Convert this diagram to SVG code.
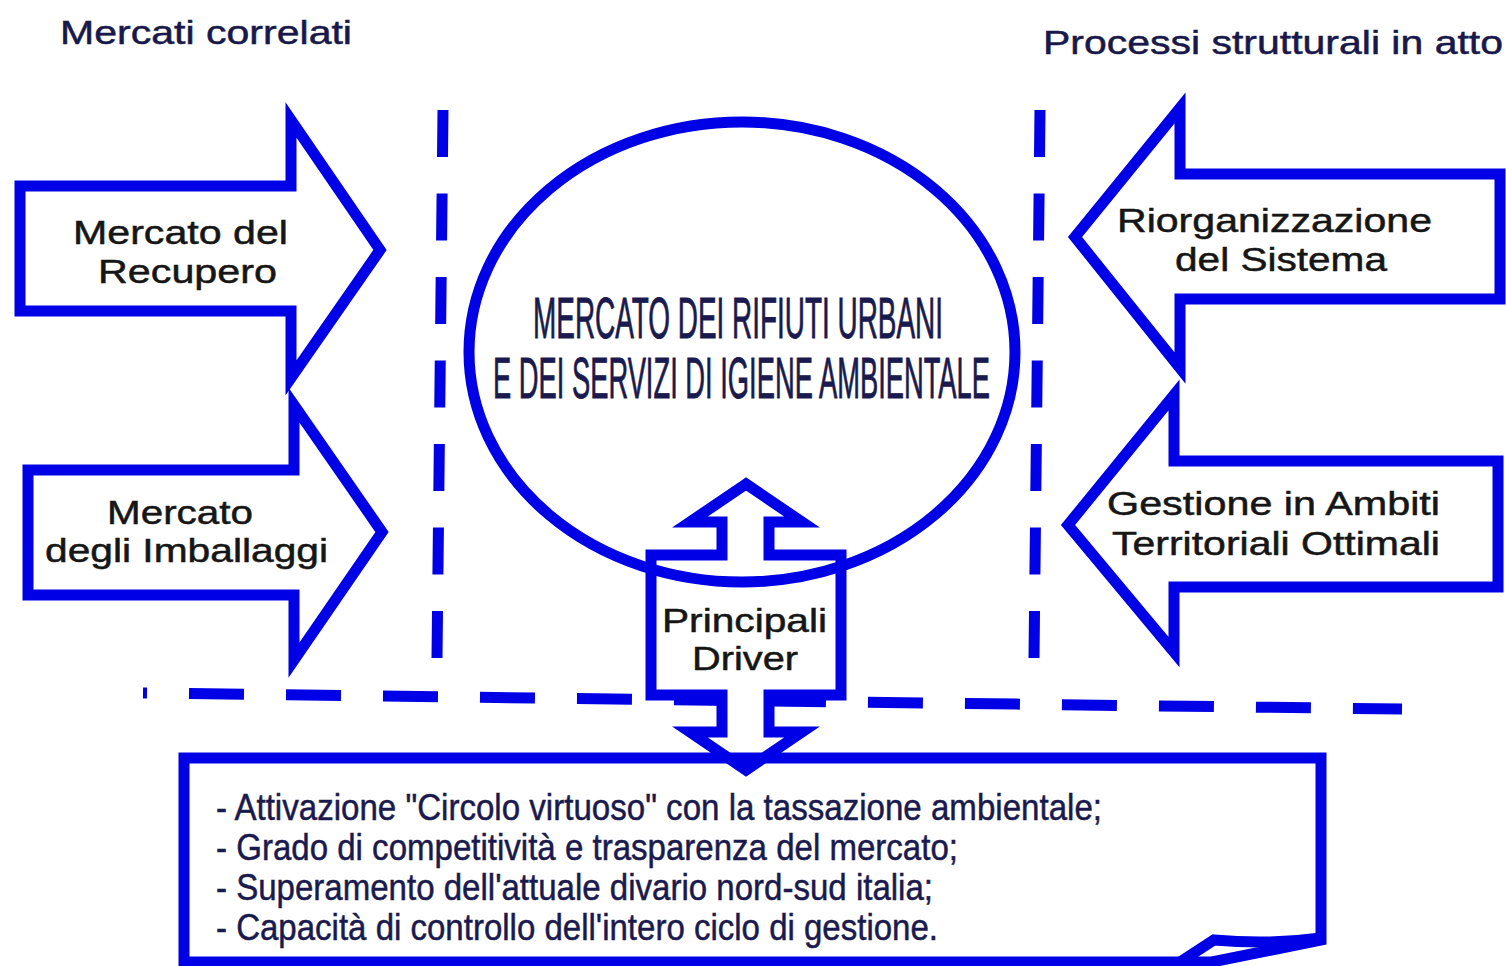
<svg xmlns="http://www.w3.org/2000/svg" width="1506" height="966" viewBox="0 0 1506 966">
<style>
.b{fill:none;stroke:#0000e6;stroke-width:11;stroke-linejoin:miter}
.bw{fill:#fff;stroke:#0000e6;stroke-width:11;stroke-linejoin:miter}
.d{fill:none;stroke:#0000e6;stroke-width:11}
.t{font-family:"Liberation Sans",Arial,sans-serif;font-size:33px;fill:#161616;stroke:#161616;stroke-width:0.5}
.h{font-family:"Liberation Sans",Arial,sans-serif;font-size:33px;fill:#18184a;stroke:#18184a;stroke-width:0.5}
.e{font-family:"Liberation Sans",Arial,sans-serif;font-size:58px;fill:#1a1a4e;stroke:#1a1a4e;stroke-width:0.9}
.l{font-family:"Liberation Sans",Arial,sans-serif;font-size:36px;fill:#1a1a4e;stroke:#1a1a4e;stroke-width:0.5}
</style>
<rect width="1506" height="966" fill="#fff"/>
<g id="titles">
<text class="h" x="60" y="44" textLength="292" lengthAdjust="spacingAndGlyphs">Mercati correlati</text>
<text class="h" x="1043" y="54" textLength="460" lengthAdjust="spacingAndGlyphs">Processi strutturali in atto</text>
</g>
<g id="connectors">
<line class="d" x1="443" y1="110" x2="437" y2="658" stroke-dasharray="47 36.5"/>
<line class="d" x1="1040" y1="110" x2="1034" y2="658" stroke-dasharray="47 36.5"/>
<line class="d" x1="143" y1="693" x2="1402" y2="709" stroke-width="10" stroke-dasharray="55 42" stroke-dashoffset="51"/>
</g>
<g id="arrow-recupero">
<polygon class="bw" points="20,186 291,186 291,120 380,250 291,378 291,311 20,311"/>
<text class="t" x="73" y="244" textLength="215" lengthAdjust="spacingAndGlyphs">Mercato del</text>
<text class="t" x="98" y="283" textLength="179" lengthAdjust="spacingAndGlyphs">Recupero</text>
</g>
<g id="arrow-imballaggi">
<polygon class="bw" points="28,470 294,470 294,405 382,532 294,660 294,595 28,595"/>
<text class="t" x="107" y="524" textLength="146" lengthAdjust="spacingAndGlyphs">Mercato</text>
<text class="t" x="45" y="562" textLength="283" lengthAdjust="spacingAndGlyphs">degli Imballaggi</text>
</g>
<g id="arrow-riorganizzazione">
<polygon class="bw" points="1500,174 1180,174 1180,108 1075,237 1180,368 1180,299 1500,299"/>
<text class="t" x="1117" y="232" textLength="315" lengthAdjust="spacingAndGlyphs">Riorganizzazione</text>
<text class="t" x="1175" y="271" textLength="212" lengthAdjust="spacingAndGlyphs">del Sistema</text>
</g>
<g id="arrow-gestione">
<polygon class="bw" points="1498,461 1174,461 1174,395 1068,525 1174,652 1174,587 1498,587"/>
<text class="t" x="1107" y="515" textLength="333" lengthAdjust="spacingAndGlyphs">Gestione in Ambiti</text>
<text class="t" x="1112" y="555" textLength="328" lengthAdjust="spacingAndGlyphs">Territoriali Ottimali</text>
</g>
<g id="driver">
<polygon class="bw" points="746,484 690,522 722,522 722,555 651,555 651,695 722,695 722,732 690,732 746,770 802,732 769,732 769,695 841,695 841,555 769,555 769,522 802,522"/>
<text class="t" x="662" y="632" textLength="165" lengthAdjust="spacingAndGlyphs">Principali</text>
<text class="t" x="692" y="670" textLength="106" lengthAdjust="spacingAndGlyphs">Driver</text>
</g>
<g id="mercato">
<ellipse class="b" cx="742" cy="352" rx="273" ry="230"/>
<text class="e" x="533" y="338" textLength="410" lengthAdjust="spacingAndGlyphs">MERCATO DEI RIFIUTI URBANI</text>
<text class="e" x="493" y="398" textLength="497" lengthAdjust="spacingAndGlyphs">E DEI SERVIZI DI IGIENE AMBIENTALE</text>
</g>
<g id="lista">
<path class="b" d="M184,758 H1321 V940 L1212,962 H184 Z"/>
<path class="b" d="M1180,962 L1214,940 Q1270,945 1321,938"/>
<text class="l" x="216" y="820" textLength="886" lengthAdjust="spacingAndGlyphs">- Attivazione "Circolo virtuoso" con la tassazione ambientale;</text>
<text class="l" x="216" y="860" textLength="742" lengthAdjust="spacingAndGlyphs">- Grado di competitività e trasparenza del mercato;</text>
<text class="l" x="216" y="900" textLength="717" lengthAdjust="spacingAndGlyphs">- Superamento dell'attuale divario nord-sud italia;</text>
<text class="l" x="216" y="940" textLength="722" lengthAdjust="spacingAndGlyphs">- Capacità di controllo dell'intero ciclo di gestione.</text>
</g>
</svg>
